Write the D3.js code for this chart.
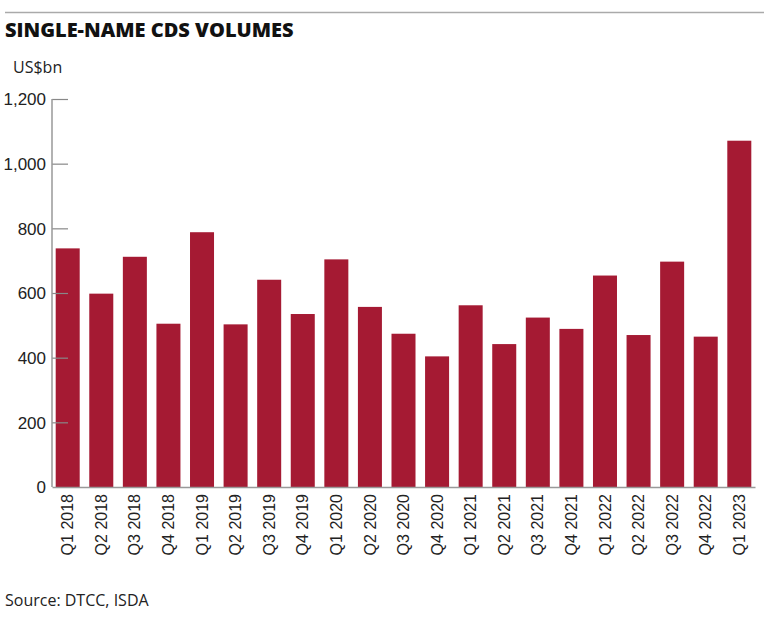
<!DOCTYPE html>
<html lang="en">
<head>
  <meta charset="UTF-8">
  <title>Single-name CDS volumes</title>
  <style>
    body { margin: 0; background: #fff; }
    svg { display: block; font-family: "Open Sans", sans-serif; }
    .title { font-size: 20px; font-weight: 800; fill: #111; }
    .unit, .source { font-size: 16px; fill: #222; }
    .tick text { font-size: 17px; fill: #222; }
  </style>
</head>
<body>
<svg width="764" height="633"></svg>
<script src="https://d3js.org/d3.v7.min.js"></script>
<script>
  const quarters = ["Q1 2018", "Q2 2018", "Q3 2018", "Q4 2018", "Q1 2019", "Q2 2019", "Q3 2019", "Q4 2019",
    "Q1 2020", "Q2 2020", "Q3 2020", "Q4 2020", "Q1 2021", "Q2 2021", "Q3 2021", "Q4 2021",
    "Q1 2022", "Q2 2022", "Q3 2022", "Q4 2022", "Q1 2023"];
  const volumes = [738, 598, 712, 505, 788, 503, 641, 535, 704, 557, 474, 404, 562, 442, 524, 489,
    654, 470, 697, 465, 1071];
  const yTicks = [0, 200, 400, 600, 800, 1000, 1200];

  const svg = d3.select("svg");
  const plotLeft = 52, plotRight = 755, plotTop = 99, plotBottom = 487;

  // header rule + titles
  svg.append("line").attr("x1", 5).attr("x2", 764).attr("y1", 12.5).attr("y2", 12.5)
    .attr("stroke", "#aaa").attr("stroke-width", 1.5);
  svg.append("text").attr("class", "title").attr("x", 5).attr("y", 37).text("SINGLE-NAME CDS VOLUMES");
  svg.append("text").attr("class", "unit").attr("x", 13).attr("y", 73).text("US$bn");
  svg.append("text").attr("class", "source").attr("x", 5).attr("y", 606).text("Source: DTCC, ISDA");

  const x = d3.scaleBand().domain(quarters).range([plotLeft, plotRight]).paddingInner(0.285).paddingOuter(0.11);
  const y = d3.scaleLinear().domain([0, 1200]).range([plotBottom, plotTop]);

  svg.selectAll(".bar")
    .data(quarters)
    .enter()
    .append("rect")
    .attr("class", "bar")
    .attr("x", d => x(d))
    .attr("width", x.bandwidth())
    .attr("y", (d, i) => y(volumes[i]))
    .attr("height", (d, i) => y(0) - y(volumes[i]))
    .attr("fill", "#a51a33");

  // y axis: ticks drawn inward
  const yAxis = svg.append("g")
    .attr("transform", `translate(${plotLeft},0)`)
    .call(d3.axisRight(y).tickValues(yTicks).tickSize(16).tickFormat(d3.format(",")));
  yAxis.select(".domain").remove();
  yAxis.selectAll(".tick line").attr("stroke", "#888").attr("stroke-width", 1.2);
  yAxis.selectAll(".tick text").attr("x", -6).attr("text-anchor", "end").attr("dy", "0.35em");
  yAxis.selectAll(".tick").filter(d => d === 0).select("line").remove();
  svg.append("line").attr("x1", plotLeft).attr("x2", plotLeft).attr("y1", plotTop).attr("y2", plotBottom)
    .attr("stroke", "#999").attr("stroke-width", 1.5);

  // x axis
  const xAxis = svg.append("g")
    .attr("transform", `translate(0,${plotBottom})`)
    .call(d3.axisBottom(x).tickSize(0));
  xAxis.select(".domain").attr("stroke", "#999").attr("stroke-width", 1.5);
  xAxis.selectAll(".tick text")
    .style("font-size", "16px")
    .attr("transform", "rotate(-90)")
    .attr("text-anchor", "end")
    .attr("x", -7)
    .attr("y", 0)
    .attr("dy", "0.35em");
</script>
</body>
</html>
